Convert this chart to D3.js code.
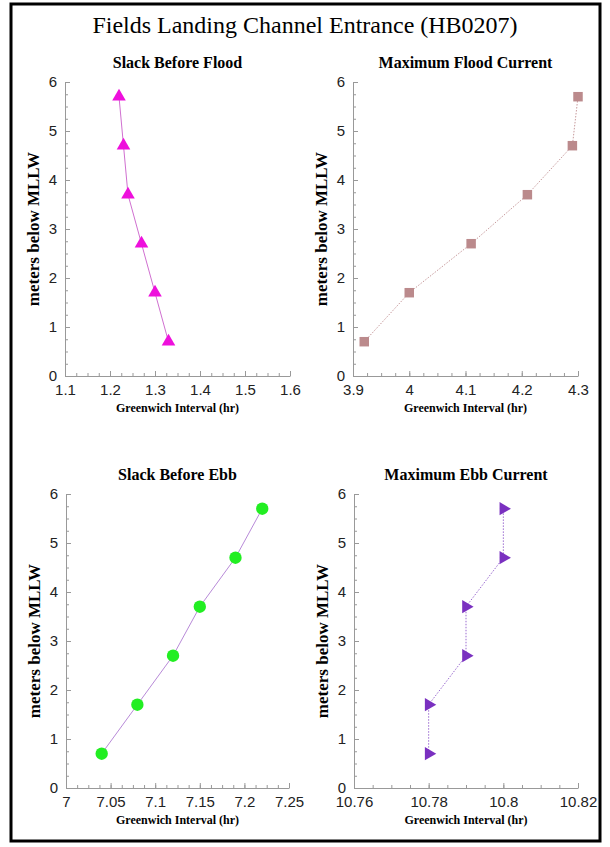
<!DOCTYPE html>
<meta charset="utf-8">
<script src="https://d3js.org/d3.v7.min.js"></script>
<style>
  body { margin: 0; background: #fff; }
</style>
<div id="chart"></div>
<script>
// depth bins (meters below MLLW)
const depths = [0.7, 1.7, 2.7, 3.7, 4.7, 5.7];
// greenwich intervals (hr) per depth
const slackFlood = [1.33, 1.30, 1.27, 1.24, 1.23, 1.22];
const maxFlood = [3.92, 4.00, 4.11, 4.21, 4.29, 4.30];
const slackEbb = [7.04, 7.08, 7.12, 7.15, 7.19, 7.22];
const maxEbb = [10.78, 10.78, 10.79, 10.79, 10.80, 10.80];

const yTicks = [0, 1, 2, 3, 4, 5, 6];
const ticksSlackFlood = [1.1, 1.2, 1.3, 1.4, 1.5, 1.6];
const ticksMaxFlood = [3.9, 4, 4.1, 4.2, 4.3];
const ticksSlackEbb = [7, 7.05, 7.1, 7.15, 7.2, 7.25];
const ticksMaxEbb = [10.76, 10.78, 10.8, 10.82];

var width = 610, height = 847;

var svg = d3.select("#chart").append("svg")
  .attr("width", width)
  .attr("height", height);

// frame
svg.append("rect")
  .attr("x", 11).attr("y", 4)
  .attr("width", 589).attr("height", 837)
  .attr("fill", "none")
  .attr("stroke", "#000")
  .attr("stroke-width", 3);

svg.append("text")
  .attr("x", 305).attr("y", 33)
  .attr("text-anchor", "middle")
  .style("font-family", "'Liberation Serif', 'DejaVu Serif', serif")
  .style("font-size", "24px")
  .text("Fields Landing Channel Entrance (HB0207)");

var panels = [
  { title: "Slack Before Flood", xs: slackFlood, ticks: ticksSlackFlood, x0: 65, x1: 290, top: 82, bottom: 376,
    symbol: d3.symbolTriangle, size: 80, rot: 0, fill: "#ee10dc", line: "#d070d0", dash: null },
  { title: "Maximum Flood Current", xs: maxFlood, ticks: ticksMaxFlood, x0: 353, x1: 578, top: 82, bottom: 376,
    symbol: d3.symbolSquare, size: 90, rot: 0, fill: "#bb8a8c", line: "#c79a9c", dash: "1.5,1.5" },
  { title: "Slack Before Ebb", xs: slackEbb, ticks: ticksSlackEbb, x0: 66, x1: 289, top: 494, bottom: 788,
    symbol: d3.symbolCircle, size: 120, rot: 0, fill: "#22ee22", line: "#b88ad8", dash: null },
  { title: "Maximum Ebb Current", xs: maxEbb, ticks: ticksMaxEbb, x0: 354, x1: 578, top: 494, bottom: 788,
    symbol: d3.symbolTriangle, size: 75, rot: 90, fill: "#7a30c0", line: "#9a6ad0", dash: "1.5,1.5" }
];

var serif = "'Liberation Serif', 'DejaVu Serif', serif";
var sans = "'Liberation Sans', Arial, sans-serif";

panels.forEach(function (p) {
  var x = d3.scaleLinear()
    .domain([p.ticks[0], p.ticks[p.ticks.length - 1]])
    .range([p.x0, p.x1]);
  var y = d3.scaleLinear().domain([0, 6]).range([p.bottom, p.top]);
  var g = svg.append("g");

  // minor ticks (4 intervals between labelled ticks)
  var step = (p.ticks[1] - p.ticks[0]) / 4;
  var minorX = d3.range(0, (p.ticks.length - 1) * 4 + 1).map(function (i) { return p.ticks[0] + i * step; });
  var minorY = d3.range(0, 25).map(function (i) { return i * 0.25; });

  g.append("g")
    .attr("transform", "translate(0," + p.bottom + ")")
    .call(d3.axisBottom(x).tickValues(minorX).tickSize(-3).tickFormat(""))
    .call(function (s) { s.select(".domain").remove(); s.selectAll("line").attr("stroke", "#999"); });
  g.append("g")
    .attr("transform", "translate(" + p.x0 + ",0)")
    .call(d3.axisLeft(y).tickValues(minorY).tickSize(-3).tickFormat(""))
    .call(function (s) { s.select(".domain").remove(); s.selectAll("line").attr("stroke", "#999"); });

  var xAxis = g.append("g")
    .attr("transform", "translate(0," + p.bottom + ")")
    .call(d3.axisBottom(x).tickValues(p.ticks).tickSize(-5).tickSizeOuter(0).tickPadding(8).tickFormat(d3.format("")));
  var yAxis = g.append("g")
    .attr("transform", "translate(" + p.x0 + ",0)")
    .call(d3.axisLeft(y).tickValues(yTicks).tickSize(-5).tickSizeOuter(0).tickPadding(8).tickFormat(d3.format("d")));
  [xAxis, yAxis].forEach(function (a) {
    a.select(".domain").attr("stroke", "#999");
    a.selectAll("line").attr("stroke", "#999");
    a.selectAll("text")
      .style("font-family", sans)
      .style("font-size", "15px")
      .attr("fill", "#222");
  });

  // title and axis labels
  var cx = (p.x0 + p.x1) / 2;
  g.append("text")
    .attr("x", cx).attr("y", p.top - 14)
    .attr("text-anchor", "middle")
    .style("font-family", serif).style("font-weight", "bold").style("font-size", "16px")
    .text(p.title);
  g.append("text")
    .attr("x", cx).attr("y", p.bottom + 36)
    .attr("text-anchor", "middle")
    .style("font-family", serif).style("font-weight", "bold").style("font-size", "12px")
    .text("Greenwich Interval (hr)");
  g.append("text")
    .attr("transform", "translate(" + (p.x0 - 26) + "," + ((p.top + p.bottom) / 2) + ") rotate(-90)")
    .attr("text-anchor", "middle")
    .style("font-family", serif).style("font-weight", "bold").style("font-size", "17px")
    .text("meters below MLLW");

  var pts = depths.map(function (d, i) { return [p.xs[i], d]; });
  var line = d3.line().x(function (d) { return x(d[0]); }).y(function (d) { return y(d[1]); });
  g.append("path")
    .datum(pts)
    .attr("d", line)
    .attr("fill", "none")
    .attr("stroke", p.line)
    .attr("stroke-width", 1)
    .attr("stroke-dasharray", p.dash);

  g.selectAll(".pt")
    .data(pts)
    .enter().append("path")
    .attr("d", d3.symbol().type(p.symbol).size(p.size))
    .attr("transform", function (d) { return "translate(" + x(d[0]) + "," + y(d[1]) + ") rotate(" + p.rot + ")"; })
    .attr("fill", p.fill);
});
</script>
